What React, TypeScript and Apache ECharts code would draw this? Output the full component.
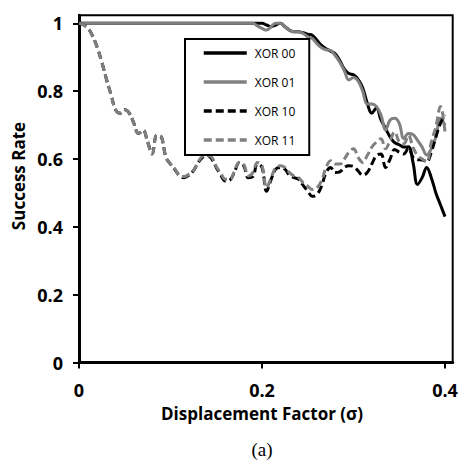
import React, { useEffect, useRef } from "react";
import * as echarts from "echarts";

const xValues = [
  0, 0.005, 0.01, 0.015, 0.02, 0.025, 0.03, 0.035, 0.04, 0.045,
  0.05, 0.055, 0.06, 0.065, 0.07, 0.075, 0.08, 0.085, 0.09, 0.095,
  0.1, 0.105, 0.11, 0.115, 0.12, 0.125, 0.13, 0.135, 0.14, 0.145,
  0.15, 0.155, 0.16, 0.165, 0.17, 0.175, 0.18, 0.185, 0.19, 0.195,
  0.2, 0.205, 0.21, 0.215, 0.22, 0.225, 0.23, 0.235, 0.24, 0.245,
  0.25, 0.255, 0.26, 0.265, 0.27, 0.275, 0.28, 0.285, 0.29, 0.295,
  0.3, 0.305, 0.31, 0.315, 0.32, 0.325, 0.33, 0.335, 0.34, 0.345,
  0.35, 0.355, 0.36, 0.365, 0.37, 0.375, 0.38, 0.385, 0.39, 0.395,
  0.4,
];

const xor00 = [
  1, 1, 1, 1, 1, 1, 1, 1, 1, 1,
  1, 1, 1, 1, 1, 1, 1, 1, 1, 1,
  1, 1, 1, 1, 1, 1, 1, 1, 1, 1,
  1, 1, 1, 1, 1, 1, 1, 1, 1, 1,
  1, 0.995, 0.99, 0.995, 1, 0.99, 0.98, 0.975, 0.975, 0.972,
  0.968, 0.965, 0.95, 0.935, 0.925, 0.918, 0.91, 0.89, 0.865, 0.852,
  0.848, 0.835, 0.81, 0.765, 0.735, 0.75, 0.715, 0.69, 0.665, 0.648,
  0.642, 0.635, 0.636, 0.59, 0.525, 0.545, 0.575, 0.545, 0.5, 0.465,
  0.43,
];

const xor01 = [
  1, 1, 1, 1, 1, 1, 1, 1, 1, 1,
  1, 1, 1, 1, 1, 1, 1, 1, 1, 1,
  1, 1, 1, 1, 1, 1, 1, 1, 1, 1,
  1, 1, 1, 1, 1, 1, 1, 1, 1, 0.992,
  0.985, 0.98, 0.99, 1, 1, 0.99, 0.98, 0.975, 0.975, 0.97,
  0.96, 0.955, 0.94, 0.928, 0.922, 0.92, 0.905, 0.885, 0.86, 0.833,
  0.84, 0.83, 0.8, 0.762, 0.762, 0.755, 0.73, 0.685, 0.715, 0.72,
  0.705, 0.66, 0.675, 0.672, 0.655, 0.635, 0.612, 0.63, 0.665, 0.72,
  0.7,
];

const xor10 = [
  1, 0.995, 0.985, 0.962, 0.928, 0.885, 0.835, 0.79, 0.745, 0.735,
  0.745, 0.735, 0.705, 0.675, 0.685, 0.65, 0.615, 0.67, 0.665, 0.605,
  0.585, 0.568, 0.55, 0.545, 0.552, 0.565, 0.588, 0.605, 0.61, 0.6,
  0.575, 0.552, 0.535, 0.538, 0.562, 0.588, 0.58, 0.545, 0.548, 0.585,
  0.575, 0.505, 0.54, 0.57, 0.575, 0.57, 0.552, 0.545, 0.54, 0.522,
  0.505, 0.49, 0.495, 0.52, 0.56, 0.575, 0.56, 0.562, 0.575, 0.58,
  0.578, 0.565, 0.552, 0.56, 0.585, 0.61, 0.615, 0.575, 0.6, 0.628,
  0.62, 0.615, 0.632, 0.605, 0.598, 0.597, 0.592, 0.62, 0.665, 0.705,
  0.73,
];

const xor11 = [
  1, 0.995, 0.985, 0.962, 0.928, 0.885, 0.835, 0.79, 0.745, 0.735,
  0.745, 0.735, 0.705, 0.675, 0.685, 0.65, 0.615, 0.67, 0.665, 0.605,
  0.585, 0.57, 0.55, 0.548, 0.555, 0.565, 0.59, 0.608, 0.61, 0.605,
  0.578, 0.558, 0.54, 0.54, 0.565, 0.59, 0.585, 0.55, 0.56, 0.59,
  0.58, 0.515, 0.545, 0.575, 0.58, 0.575, 0.56, 0.55, 0.545, 0.53,
  0.52, 0.51, 0.515, 0.535, 0.575, 0.595, 0.585, 0.585, 0.6, 0.62,
  0.63, 0.605, 0.59, 0.61, 0.635, 0.65, 0.66, 0.63, 0.655, 0.68,
  0.65, 0.645, 0.67, 0.635, 0.61, 0.6, 0.592, 0.65, 0.695, 0.755,
  0.68,
];

const seriesNames = ["XOR 00", "XOR 01", "XOR 10", "XOR 11"];
const seriesValues = [xor00, xor01, xor10, xor11];
const xTicks = [0, 0.2, 0.4];
const yTicks = [0, 0.2, 0.4, 0.6, 0.8, 1];
const xTitle = "Displacement Factor (σ)";
const yTitle = "Success Rate";
const caption = "(a)";

const BLACK = "#000000";
const GRAY = "#808080";
const seriesColors = [BLACK, GRAY, BLACK, GRAY];
const seriesDash: any[] = ["solid", "solid", [8, 4], [8, 4]];
const FONT = "'Open Sans', 'Noto Sans', sans-serif";

export default function App() {
  const ref = useRef<HTMLDivElement>(null);
  useEffect(() => {
    document.body.style.margin = "0";
    const chart = echarts.init(ref.current!, null, { renderer: "svg" });
    const series = seriesNames.map((name, k) => ({
      name,
      type: "line",
      data: xValues.map((x, i) => [x, seriesValues[k][i]]),
      symbol: "none",
      smooth: 0.4,
      clip: false,
      lineStyle: { color: seriesColors[k], width: 3, type: seriesDash[k], cap: "butt" },
      itemStyle: { color: seriesColors[k] },
    }));
    chart.setOption({
      animation: false,
      backgroundColor: "#ffffff",
      grid: {
        left: 79,
        right: 9.3,
        top: 15.3,
        bottom: 104.5,
        show: true,
        borderColor: BLACK,
        borderWidth: 2,
        backgroundColor: "transparent",
      },
      legend: {
        orient: "vertical",
        left: 185,
        top: 39,
        data: seriesNames,
        borderColor: BLACK,
        borderWidth: 2,
        backgroundColor: "#ffffff",
        padding: [8, 14, 9, 17],
        itemWidth: 43,
        itemHeight: 14,
        itemGap: 17,
        lineStyle: { width: 3.5 },
        itemStyle: { color: "rgba(0,0,0,0)", borderColor: "rgba(0,0,0,0)", borderWidth: 0, opacity: 0 },
        textStyle: { fontSize: 12, color: BLACK, fontFamily: FONT, padding: [0, 0, 0, 3] },
      },
      xAxis: {
        type: "value",
        min: 0,
        max: 0.4084,
        axisLine: { show: true, onZero: false, lineStyle: { color: BLACK, width: 3 } },
        axisTick: { show: true, customValues: xTicks, length: 6, lineStyle: { color: BLACK, width: 2 } },
        axisLabel: {
          customValues: xTicks,
          formatter: (v: number) => String(v),
          fontSize: 18,
          fontWeight: "bold",
          color: BLACK,
          fontFamily: FONT,
          margin: 18,
        },
        splitLine: { show: false },
      },
      yAxis: {
        type: "value",
        min: 0,
        max: 1.0236,
        axisLine: { show: true, onZero: false, lineStyle: { color: BLACK, width: 3 } },
        axisTick: { show: true, customValues: yTicks, length: 6, lineStyle: { color: BLACK, width: 2 } },
        axisLabel: {
          customValues: yTicks,
          formatter: (v: number) => String(v),
          fontSize: 18,
          fontWeight: "bold",
          color: BLACK,
          fontFamily: FONT,
          margin: 16,
        },
        splitLine: { show: false },
      },
      graphic: [
        {
          type: "text",
          x: 262,
          y: 413,
          style: {
            text: xTitle,
            font: `bold 17px ${FONT}`,
            fill: BLACK,
            textAlign: "center",
            textVerticalAlign: "middle",
            align: "center",
            verticalAlign: "middle",
          },
        },
        {
          type: "text",
          x: 18,
          y: 176,
          rotation: Math.PI / 2,
          style: {
            text: yTitle,
            font: `bold 17px ${FONT}`,
            fill: BLACK,
            textAlign: "center",
            textVerticalAlign: "middle",
            align: "center",
            verticalAlign: "middle",
          },
        },
        {
          type: "text",
          x: 262,
          y: 449,
          style: {
            text: caption,
            font: "19px 'Liberation Serif', 'DejaVu Serif', serif",
            fill: BLACK,
            textAlign: "center",
            textVerticalAlign: "middle",
            align: "center",
            verticalAlign: "middle",
          },
        },
      ],
      series,
    });
    return () => chart.dispose();
  }, []);
  return <div ref={ref} style={{ width: 462, height: 467 }} />;
}
